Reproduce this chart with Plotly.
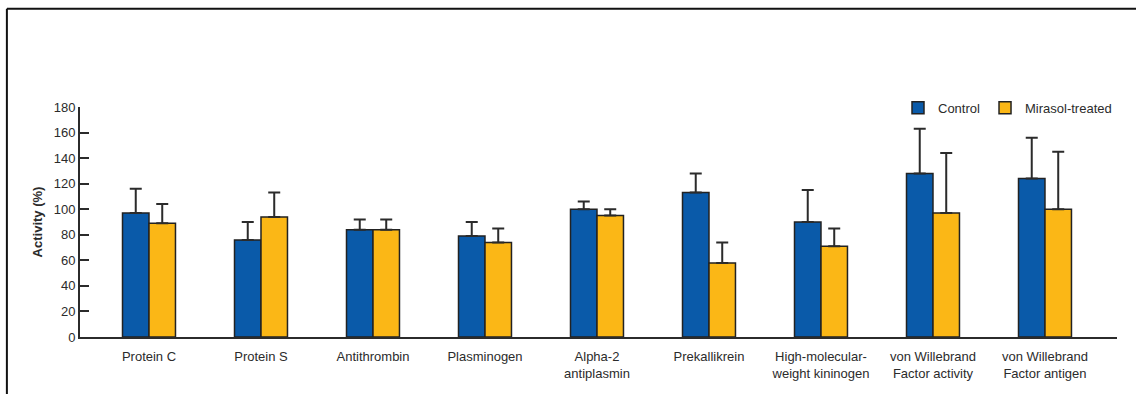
import plotly.graph_objects as go

# Plasma protein activity, control vs Mirasol-treated (mean + SD)
categories = [
    "Protein C",
    "Protein S",
    "Antithrombin",
    "Plasminogen",
    "Alpha-2<br>antiplasmin",
    "Prekallikrein",
    "High-molecular-<br>weight kininogen",
    "von Willebrand<br>Factor activity",
    "von Willebrand<br>Factor antigen",
]
control = [97, 76, 84, 79, 100, 113, 90, 128, 124]
control_sd = [19, 14, 8, 11, 6, 15, 25, 35, 32]
treated = [89, 94, 84, 74, 95, 58, 71, 97, 100]
treated_sd = [15, 19, 8, 11, 5, 16, 14, 47, 45]
y_ticks = [0, 20, 40, 60, 80, 100, 120, 140, 160, 180]

FONT = "Liberation Sans, Arial, Helvetica, sans-serif"
INK = "#2b2b2b"
positions = list(range(len(categories)))


def bar_trace(name, values, sd, color):
    return go.Bar(
        name=name,
        x=positions,
        y=values,
        marker=dict(color=color, line=dict(color="#222222", width=1.5)),
        error_y=dict(
            type="data",
            symmetric=False,
            array=sd,
            arrayminus=[0] * len(sd),
            color=INK,
            thickness=2,
            width=6,
        ),
    )


fig = go.Figure(
    [
        bar_trace("Control", control, control_sd, "#0a5aa9"),
        bar_trace("Mirasol-treated", treated, treated_sd, "#fbb716"),
    ]
)

# frame around the figure (left and top edges)
frame = dict(type="line", xref="paper", yref="paper", line=dict(color="#111111", width=2))
fig.add_shape(frame, x0=-0.0705, x1=-0.0705, y0=1.427, y1=-0.30)
fig.add_shape(frame, x0=-0.0705, x1=1.05, y0=1.427, y1=1.427)

fig.update_layout(
    width=1136,
    height=394,
    margin=dict(l=80, r=19, t=107, b=57),
    paper_bgcolor="#ffffff",
    plot_bgcolor="#ffffff",
    barmode="group",
    bargap=0.527,
    bargroupgap=0,
    font=dict(family=FONT, size=13, color=INK),
    showlegend=True,
    legend=dict(
        orientation="h",
        x=1.0,
        xanchor="right",
        y=0.997,
        yanchor="middle",
        font=dict(family=FONT, size=13, color=INK),
        bgcolor="rgba(0,0,0,0)",
        itemwidth=30,
    ),
    xaxis=dict(
        range=[-0.616, 8.643],
        tickmode="array",
        tickvals=positions,
        ticktext=categories,
        showline=True,
        linecolor=INK,
        linewidth=2,
        ticks="outside",
        ticklen=6,
        tickcolor="rgba(0,0,0,0)",
        showgrid=False,
        zeroline=False,
        tickfont=dict(family=FONT, size=13, color=INK),
    ),
    yaxis=dict(
        range=[0, 180],
        tickmode="array",
        tickvals=y_ticks,
        showline=True,
        linecolor=INK,
        linewidth=2,
        ticks="inside",
        ticklen=9,
        tickwidth=2,
        tickcolor=INK,
        showgrid=False,
        zeroline=False,
        tickfont=dict(family=FONT, size=13, color=INK),
        title=dict(
            text="<b>Activity (%)</b>",
            font=dict(family=FONT, size=13, color=INK),
            standoff=8,
        ),
    ),
)

fig.write_html("out.html")
